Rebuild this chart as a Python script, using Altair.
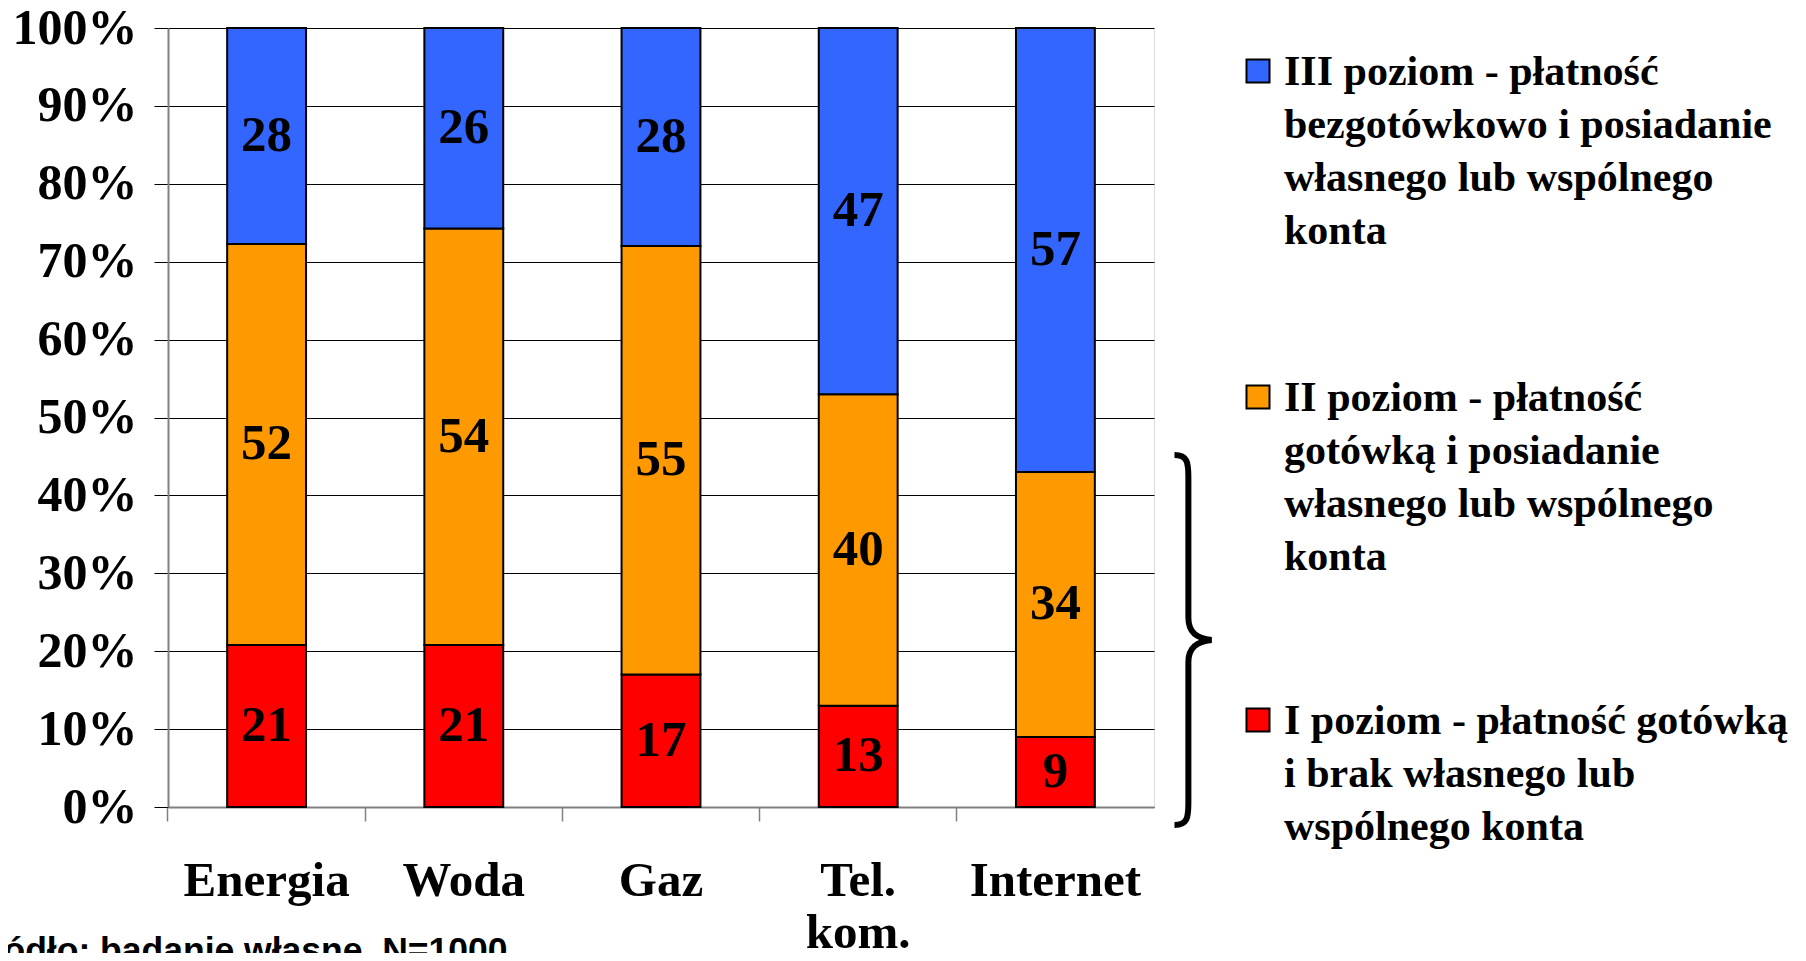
import altair as alt
import pandas as pd

categories = ["Energia", "Woda", "Gaz", "Tel. kom.", "Internet"]
level_I = [21, 21, 17, 13, 9]
level_II = [52, 54, 55, 40, 34]
level_III = [28, 26, 28, 47, 57]
levels = ["I poziom", "II poziom", "III poziom"]
colors = ["#FF0000", "#FF9900", "#3366FF"]
legend_labels = [
    "III poziom - płatność\nbezgotówkowo i posiadanie\nwłasnego lub wspólnego\nkonta",
    "II poziom - płatność\ngotówką i posiadanie\nwłasnego lub wspólnego\nkonta",
    "I poziom - płatność gotówką\ni brak własnego lub\nwspólnego konta",
]
legend_colors = ["#3366FF", "#FF9900", "#FF0000"]
source_text = "Źródło: badanie własne, N=1000"
y_ticks = [0, 0.1, 0.2, 0.3, 0.4, 0.5, 0.6, 0.7, 0.8, 0.9, 1.0]

rows = []
for i, c in enumerate(categories):
    for j, (lvl, vals) in enumerate(zip(levels, [level_I, level_II, level_III])):
        rows.append({"category": c, "level": lvl, "order": j, "value": vals[i]})
df = pd.DataFrame(rows)

SERIF = "Liberation Serif"

base = alt.Chart(df).transform_stack(
    stack="value", groupby=["category"], sort=[alt.SortField("order")],
    as_=["y0", "y1"], offset="normalize"
).transform_calculate(mid="(datum.y0 + datum.y1) / 2")

x_enc = alt.X(
    "category:N", sort=categories, title=None,
    scale=alt.Scale(paddingInner=0.6, paddingOuter=0.3),
    axis=alt.Axis(
        labelAngle=0, labelFont=SERIF, labelFontSize=49, labelFontWeight="bold",
        labelColor="black", labelPadding=35, tickSize=14, tickColor="#808080",
        tickWidth=1.5, bandPosition=-0.75, domainColor="#808080", domainWidth=2,
        labelExpr="split(datum.label, ' ')", labelLineHeight=52, grid=False,
    ),
)

bars = base.mark_bar(stroke="black", strokeWidth=2).encode(
    x=x_enc,
    y=alt.Y(
        "y0:Q", title=None, scale=alt.Scale(domain=[0, 1], nice=False),
        axis=alt.Axis(
            values=y_ticks, format=".0%", labelFont=SERIF, labelFontSize=50,
            labelFontWeight="bold", labelColor="black", labelPadding=17,
            tickSize=14, tickColor="black", tickWidth=1, gridColor="black",
            gridWidth=1, domainColor="#808080", domainWidth=2,
        ),
    ),
    y2="y1:Q",
    color=alt.Color("level:N", scale=alt.Scale(domain=levels, range=colors), legend=None),
)

labels = base.mark_text(
    font=SERIF, fontSize=51, fontWeight="bold", color="black", baseline="middle"
).encode(
    x=alt.X("category:N", sort=categories),
    y=alt.Y("mid:Q"),
    text="value:Q",
)

layers = [bars, labels]

legend_sq_y = [43, 369, 692]
for lbl, col, yy in zip(legend_labels, legend_colors, legend_sq_y):
    d = pd.DataFrame({"t": [lbl]})
    sq = alt.Chart(d).mark_point(
        shape="square", filled=True, fill=col, stroke="black", strokeWidth=2,
        size=530, opacity=1
    ).encode(x=alt.value(1090), y=alt.value(yy))
    tx = alt.Chart(d).mark_text(
        font=SERIF, fontSize=42, fontWeight="bold", color="black", align="left",
        baseline="top", lineBreak="\n", lineHeight=53
    ).encode(x=alt.value(1116), y=alt.value(yy - 19), text="t:N")
    layers += [sq, tx]

brace_path = ("M -0.1 -1 C -0.03 -1 -0.025 -0.96 -0.025 -0.88 L -0.025 -0.12 "
              "C -0.025 -0.04 0.02 -0.01 0.1 0 C 0.02 0.01 -0.025 0.04 -0.025 0.12 "
              "L -0.025 0.88 C -0.025 0.96 -0.03 1 -0.1 1")
brace = alt.Chart(pd.DataFrame({"b": [1]})).mark_point(
    shape=brace_path, filled=False, stroke="black", strokeWidth=6, size=136900, opacity=1
).encode(x=alt.value(1025), y=alt.value(612))
layers.append(brace)

source = alt.Chart(pd.DataFrame({"s": [source_text]})).mark_text(
    font="Liberation Sans", fontSize=35.5, fontWeight="bold", color="black",
    align="left", baseline="top"
).encode(x=alt.value(-200), y=alt.value(906), text="s:N")
layers.append(source)

chart = alt.layer(*layers).properties(
    width=986, height=779,
    padding={"left": 160, "top": 20, "right": 644, "bottom": 146},
    autosize=alt.AutoSizeParams(type="none"),
).configure_view(stroke="#808080", strokeWidth=2).configure(background="white")

chart.save("out.html", embed_options={"renderer": "svg", "actions": False})
